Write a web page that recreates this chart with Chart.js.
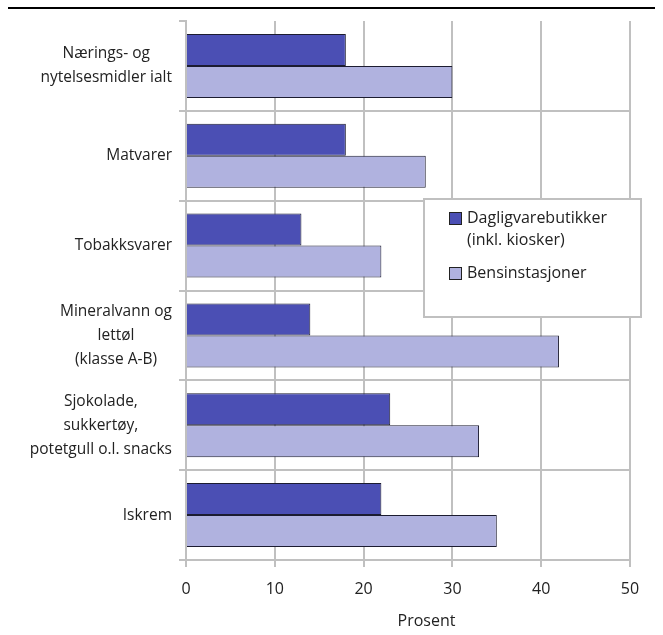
<!DOCTYPE html>
<html>
<head>
<meta charset="utf-8">
<script src="https://cdn.jsdelivr.net/npm/chart.js@4/dist/chart.umd.min.js"></script>
<style>
  body { margin: 0; background: #fff; }
  canvas { display: block; }
</style>
</head>
<body>
<canvas id="myChart" width="663" height="635"></canvas>
<script>
// categories, one entry per row (arrays = multi-line labels)
const categories = [
    ['Nærings- og', 'nytelsesmidler ialt'],
    'Matvarer',
    'Tobakksvarer',
    ['Mineralvann og', 'lettøl', '(klasse A-B)'],
    ['Sjokolade,', 'sukkertøy,', 'potetgull o.l. snacks'],
    'Iskrem'
];
const dagligvare = [18, 18, 13, 14, 23, 22];
const bensin = [30, 27, 22, 42, 33, 35];
const seriesNames = [['Dagligvarebutikker', '(inkl. kiosker)'], ['Bensinstasjoner']];
const xTitle = 'Prosent';
const xMin = 0, xMax = 50, xStep = 10;

const darkBlue = '#4b4fb4';
const lightBlue = '#b0b2df';
const gridGrey = '#c0c0c0';
const textColor = '#222';
const fontFamily = '"Open Sans", "Noto Sans", sans-serif';

// rule across the top of the figure
const topRule = {
    id: 'topRule',
    beforeDraw(chart) {
        const c = chart.ctx;
        c.save();
        c.strokeStyle = '#000';
        c.lineWidth = 2;
        c.beginPath();
        c.moveTo(8, 8);
        c.lineTo(655, 8);
        c.stroke();
        c.restore();
    }
};

// category labels: block right-aligned, lines centred inside the block
const centredLabels = {
    id: 'centredLabels',
    afterDraw(chart) {
        const c = chart.ctx;
        const yScale = chart.scales.y;
        const lineH = 24;
        const right = yScale.right - 14;
        c.save();
        c.font = '15.5px ' + fontFamily;
        c.fillStyle = textColor;
        c.textAlign = 'center';
        c.textBaseline = 'middle';
        categories.forEach((lab, i) => {
            const lines = Array.isArray(lab) ? lab : [lab];
            const w = Math.max(...lines.map(l => c.measureText(l).width));
            const cx = right - w / 2;
            const mid = yScale.getPixelForTick(i);
            const y0 = mid - (lines.length - 1) * lineH / 2;
            lines.forEach((l, k) => c.fillText(l, cx, y0 + k * lineH));
        });
        // axis title, centred between plot left and the canvas edge
        c.font = '16px ' + fontFamily;
        c.fillText(xTitle, (chart.chartArea.left + chart.width) / 2 + 2, 621);
        c.restore();
    }
};

// boxed legend inside the plot
const boxLegend = {
    id: 'boxLegend',
    afterDraw(chart) {
        const c = chart.ctx;
        const bx = 424, by = 199, bw = 217, bh = 118;
        c.save();
        c.fillStyle = '#fff';
        c.fillRect(bx, by, bw, bh);
        c.strokeStyle = gridGrey;
        c.lineWidth = 2;
        c.strokeRect(bx, by, bw, bh);
        c.font = '16px ' + fontFamily;
        c.textBaseline = 'middle';
        c.textAlign = 'left';
        const rows = [218, 273];
        chart.data.datasets.forEach((ds, i) => {
            const y = rows[i];
            c.fillStyle = ds.backgroundColor;
            c.fillRect(449, y - 6, 13, 13);
            c.strokeStyle = '#222';
            c.lineWidth = 1;
            c.strokeRect(449.5, y - 5.5, 12, 12);
            c.fillStyle = textColor;
            seriesNames[i].forEach((l, k) => c.fillText(l, 467, y + k * 22));
        });
        c.restore();
    }
};

const ctx = document.getElementById('myChart').getContext('2d');
const myChart = new Chart(ctx, {
    type: 'bar',
    data: {
        labels: categories,
        datasets: [{
            label: seriesNames[0].join(' '),
            data: dagligvare,
            backgroundColor: darkBlue,
            borderColor: '#1c1c30',
            borderWidth: 1,
            borderSkipped: 'left'
        }, {
            label: seriesNames[1].join(' '),
            data: bensin,
            backgroundColor: lightBlue,
            borderColor: '#1c1c30',
            borderWidth: 1,
            borderSkipped: 'left'
        }]
    },
    options: {
        indexAxis: 'y',
        responsive: false,
        maintainAspectRatio: false,
        animation: false,
        categoryPercentage: 0.713,
        barPercentage: 1,
        layout: {
            padding: { top: 21, left: 0, right: 33, bottom: 0 }
        },
        scales: {
            x: {
                min: xMin,
                max: xMax,
                afterFit: (s) => { s.height = 75; },
                ticks: {
                    stepSize: xStep,
                    padding: 13,
                    color: textColor,
                    font: { family: fontFamily, size: 16 }
                },
                grid: {
                    color: gridGrey,
                    lineWidth: 2,
                    tickLength: 7
                },
                border: { color: gridGrey, width: 2 }
            },
            y: {
                afterFit: (s) => { s.width = 186; },
                ticks: { display: false },
                grid: {
                    offset: true,
                    color: (c) => c.index === 0 ? 'rgba(0,0,0,0)' : gridGrey,
                    tickColor: gridGrey,
                    lineWidth: 2,
                    tickLength: 7
                },
                border: { color: gridGrey, width: 2 }
            }
        },
        plugins: {
            legend: { display: false },
            tooltip: { enabled: false }
        }
    },
    plugins: [topRule, centredLabels, boxLegend]
});
</script>
</body>
</html>
